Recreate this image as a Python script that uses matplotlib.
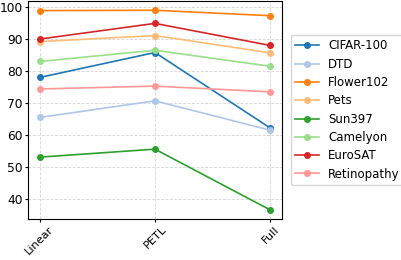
import numpy as np
import matplotlib.pyplot as plt

methods = ['Linear', 'PETL', 'Full']
datasets = ['CIFAR-100', 'DTD', 'Flower102', 'Pets', 'Sun397', 'Camelyon', 'EuroSAT', 'Retinopathy']

cifar = [78.1, 85.9, 62.3]
dtd = [65.6, 70.8, 61.6]
flower = [99.0, 99.1, 97.4]
pets = [89.3, 91.2, 85.8]
sun = [53.2, 55.7, 36.7]
camelyon = [83.1, 86.6, 81.6]
eurosat = [90.1, 95.0, 88.1]
retino = [74.5, 75.4, 73.6]

values = [cifar, dtd, flower, pets, sun, camelyon, eurosat, retino]
colors = plt.cm.tab20.colors[:8]

fig = plt.figure(figsize=(4.02, 2.60), dpi=100)
ax = fig.add_axes([0.07, 0.158, 0.631, 0.837])

x = np.arange(len(methods))
for name, vals, c in zip(datasets, values, colors):
    ax.plot(x, vals, marker='o', markersize=4, linewidth=1.2, color=c, label=name)

ax.set_xticks(x)
ax.set_xticklabels(methods, rotation=45)
ax.set_yticks([40, 50, 60, 70, 80, 90, 100])
ax.tick_params(axis='y', labelsize=8.8, length=2.5, pad=1.5)
ax.tick_params(axis='x', labelsize=8.2, length=2.5, pad=1.5)
ax.set_ylim(33.9, 101.9)
ax.grid(True, linestyle='--', alpha=0.5, linewidth=0.6)

fig.legend(loc='center left', bbox_to_anchor=(0.708, 0.577), fontsize=8.5,
           handlelength=2, labelspacing=0.45, borderpad=0.4)

plt.savefig('out.png', dpi=100)
